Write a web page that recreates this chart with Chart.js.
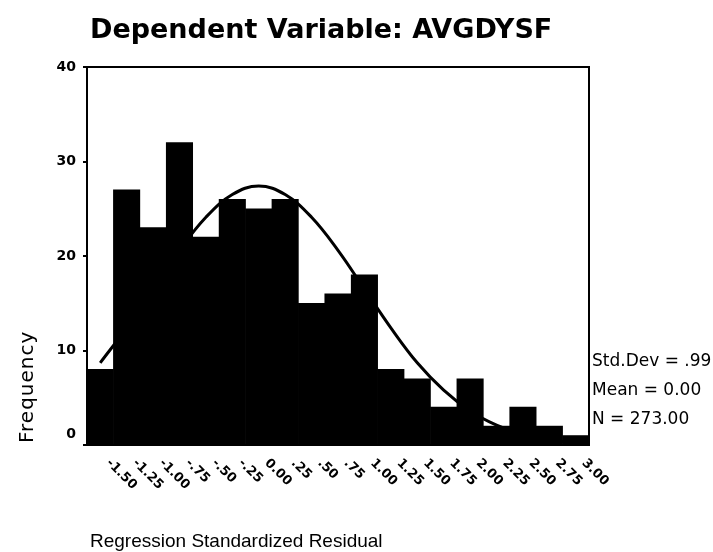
<!DOCTYPE html>
<html>
<head>
<meta charset="utf-8">
<script src="https://cdn.jsdelivr.net/npm/chart.js@4"></script>
<style>
  body { margin: 0; background: #fff; }
  canvas { display: block; }
</style>
</head>
<body>
<canvas id="histChart" width="713" height="552"></canvas>
<script>
// bin midpoints of the regression standardized residual
const binLabels = ["-1.50", "-1.25", "-1.00", "-.75", "-.50", "-.25", "0.00", ".25", ".50", ".75",
  "1.00", "1.25", "1.50", "1.75", "2.00", "2.25", "2.50", "2.75", "3.00"];
const frequency = [8, 27, 23, 32, 22, 26, 25, 26, 15, 16, 18, 8, 7, 4, 7, 2, 4, 2, 1];
// normal curve
const normalCurve = [8.7, 12.4, 16.5, 20.6, 24.1, 26.5, 27.4, 26.5, 24.1, 20.6,
  16.5, 12.4, 8.7, 5.8, 3.6, 2.1, 1.1, 0.5, 0.3];
const yTicks = [0, 10, 20, 30, 40];
const statsLines = ["Std.Dev = .99", "Mean = 0.00", "N = 273.00"];

const FONT = "'DejaVu Sans', Arial, sans-serif";
const ARIAL = "'Liberation Sans', Arial, sans-serif";

const textPlugin = {
  id: "spssText",
  afterDraw(chart) {
    const ctx = chart.ctx;
    const area = chart.chartArea;
    const x = chart.scales.x;
    const y = chart.scales.y;
    ctx.save();
    ctx.fillStyle = "#000";
    ctx.strokeStyle = "#000";

    // frame top + right
    ctx.lineWidth = 2;
    ctx.beginPath();
    ctx.moveTo(area.left, area.top);
    ctx.lineTo(area.right, area.top);
    ctx.lineTo(area.right, area.bottom);
    ctx.stroke();

    // title
    ctx.font = "bold 27px " + FONT;
    ctx.textAlign = "left";
    ctx.textBaseline = "alphabetic";
    ctx.fillText("Dependent Variable: AVGDYSF", 90, 38);

    // y tick labels
    ctx.font = "bold 14px " + FONT;
    ctx.textAlign = "right";
    ctx.textBaseline = "middle";
    yTicks.forEach(v => {
      let py = y.getPixelForValue(v);
      if (v === 0) py -= 11;
      ctx.fillText(String(v), area.left - 11, py);
    });

    // x tick labels, rotated downward
    ctx.font = "bold 13px " + FONT;
    ctx.textAlign = "left";
    binLabels.forEach((lab, i) => {
      const px = x.getPixelForTick(i);
      ctx.save();
      ctx.translate(px + 8, area.bottom + 16);
      ctx.rotate(Math.PI / 4);
      ctx.fillText(lab, 0, 0);
      ctx.restore();
    });

    // stats
    ctx.font = "17px " + FONT;
    ctx.textBaseline = "middle";
    statsLines.forEach((s, i) => {
      ctx.fillText(s, area.right + 3, 362 + i * 29);
    });

    // axis titles
    ctx.font = "19px " + ARIAL;
    ctx.textBaseline = "alphabetic";
    ctx.fillText("Regression Standardized Residual", 90, 547);

    ctx.save();
    ctx.translate(33, 443);
    ctx.rotate(-Math.PI / 2);
    ctx.font = "20px " + FONT;
    ctx.letterSpacing = "1px";
    ctx.fillText("Frequency", 0, 0);
    ctx.restore();

    ctx.restore();
  }
};

new Chart(document.getElementById("histChart"), {
  data: {
    labels: binLabels,
    datasets: [
      {
        type: "line",
        data: normalCurve,
        borderColor: "#000",
        borderWidth: 3,
        pointRadius: 0,
        tension: 0.4,
        fill: false,
        order: 0
      },
      {
        type: "bar",
        data: frequency,
        backgroundColor: "#000",
        borderWidth: 0,
        barPercentage: 1,
        categoryPercentage: 1,
        order: 1
      }
    ]
  },
  options: {
    responsive: false,
    animation: false,
    layout: { padding: { top: 67, right: 124, left: 0, bottom: 0 } },
    plugins: {
      legend: { display: false },
      tooltip: { enabled: false }
    },
    scales: {
      x: {
        type: "category",
        grid: { display: false },
        border: { display: true, color: "#000", width: 2 },
        ticks: { display: false },
        afterFit(s) { s.height = 107; }
      },
      y: {
        min: 0,
        max: 40,
        grid: { drawOnChartArea: false, drawTicks: true, tickLength: 4, color: "#000", lineWidth: 2 },
        border: { display: true, color: "#000", width: 2 },
        ticks: { display: false, stepSize: 10 },
        afterFit(s) { s.width = 87; }
      }
    }
  },
  plugins: [textPlugin]
});
</script>
</body>
</html>
